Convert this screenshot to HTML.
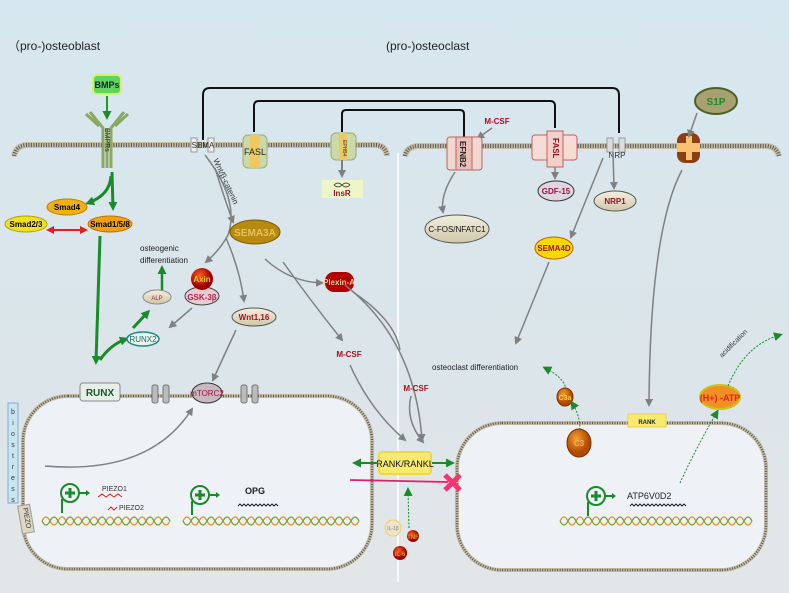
<!DOCTYPE html>
<html><head><meta charset="utf-8"><style>
html,body{margin:0;padding:0;width:789px;height:593px;overflow:hidden}
svg{display:block;font-family:"Liberation Sans",sans-serif}
</style></head><body>
<svg width="789" height="593" viewBox="0 0 789 593" xmlns="http://www.w3.org/2000/svg">
<defs>
<linearGradient id="bg" x1="0" y1="0" x2="0" y2="1"><stop offset="0" stop-color="#d7e7ef"/><stop offset="0.6" stop-color="#dbe5ea"/><stop offset="1" stop-color="#e3e6e8"/></linearGradient>
<marker id="ag" markerWidth="8" markerHeight="8" refX="6" refY="4" orient="auto" markerUnits="userSpaceOnUse"><path d="M0,0 L8,4 L0,8z" fill="#808080"/></marker>
<marker id="agr" markerWidth="9" markerHeight="9" refX="6" refY="4.5" orient="auto" markerUnits="userSpaceOnUse"><path d="M0,0 L9,4.5 L0,9z" fill="#1a8a2a"/></marker>
<marker id="ar" markerWidth="8" markerHeight="8" refX="6" refY="4" orient="auto-start-reverse" markerUnits="userSpaceOnUse"><path d="M0,0 L8,4 L0,8z" fill="#e02020"/></marker>
<radialGradient id="orng" cx="0.4" cy="0.35"><stop offset="0" stop-color="#f6a030"/><stop offset="1" stop-color="#b04a00"/></radialGradient>
<radialGradient id="redg" cx="0.4" cy="0.35"><stop offset="0" stop-color="#ff6020"/><stop offset="1" stop-color="#a00000"/></radialGradient>
<linearGradient id="beige" x1="0" y1="0" x2="0" y2="1"><stop offset="0" stop-color="#f3efe0"/><stop offset="1" stop-color="#cfc7a8"/></linearGradient>
</defs>
<rect width="789" height="593" fill="url(#bg)"/>
<text x="8" y="50" font-size="12" fill="#222">（pro-)osteoblast</text>
<text x="386" y="50" font-size="12" fill="#222">(pro-)osteoclast</text>

<!-- membranes -->
<g fill="none">
<path d="M14,156 Q16,146 26,145 L376,145 Q386,146 387,156" stroke="#c9c0a8" stroke-width="6"/>
<path d="M14,156 Q16,146 26,145 L376,145 Q386,146 387,156" stroke="#555" stroke-width="4" stroke-dasharray="1 1.5"/>
<path d="M405,156 Q407,147 417,146 L767,146 Q777,147 779,156" stroke="#c9c0a8" stroke-width="6"/>
<path d="M405,156 Q407,147 417,146 L767,146 Q777,147 779,156" stroke="#555" stroke-width="4" stroke-dasharray="1 1.5"/>
<!-- cells -->
<rect x="23" y="396" width="349" height="173" rx="45" fill="#eef1f6" stroke="#c9c0a8" stroke-width="4"/>
<rect x="23" y="396" width="349" height="173" rx="45" stroke="#555" stroke-width="2.5" stroke-dasharray="1 1.5"/>
<rect x="457" y="423" width="309" height="147" rx="45" fill="#eef1f6" stroke="#c9c0a8" stroke-width="4"/>
<rect x="457" y="423" width="309" height="147" rx="45" stroke="#555" stroke-width="2.5" stroke-dasharray="1 1.5"/>
</g>
<line x1="398" y1="153" x2="398" y2="582" stroke="#fff" stroke-width="1.5"/>

<!-- black connectors -->
<g fill="none" stroke="#111" stroke-width="2">
<path d="M203,140 L203,95 Q203,88 210,88 L612,88 Q619,88 619,95 L619,133"/>
<path d="M254,132 L254,106 Q254,101 259,101 L550,101 Q555,101 555,106 L555,128"/>
<path d="M342,132 L342,114 Q342,110 346,110 L460,110 Q464,110 464,114 L464,137"/>
</g>

<!-- BMP receptor -->
<rect x="93" y="75" width="28" height="19" rx="4" fill="#5fd45f" stroke="#d8f070" stroke-width="2"/>
<text x="107" y="88" font-size="9" font-weight="bold" text-anchor="middle" fill="#123">BMPs</text>
<g stroke="#8aa860" stroke-width="3" fill="none">
<path d="M103,168 L103,128 L90,112"/><path d="M107,168 L107,128"/><path d="M111,168 L111,128 L124,112"/><path d="M99,126 L86,114"/><path d="M115,126 L128,114"/>
</g>
<text x="105" y="128" font-size="7" fill="#333" transform="rotate(90 105 128)">BMPRs</text>
<line x1="107" y1="96" x2="107" y2="117" stroke="#1a9a2a" stroke-width="2" marker-end="url(#agr)"/>

<!-- SEMA left channel -->
<rect x="191" y="138" width="6" height="14" fill="#eee" stroke="#999"/><rect x="208" y="138" width="6" height="14" fill="#eee" stroke="#999"/>
<text x="203" y="148" font-size="8" text-anchor="middle" fill="#333">SEMA</text>
<!-- FASL left -->
<rect x="243" y="135" width="24" height="33" rx="5" fill="#cbd8a8" stroke="#9aaa70"/>
<rect x="250" y="135" width="10" height="33" fill="#f0c860"/>
<text x="255" y="155" font-size="9" text-anchor="middle" fill="#222">FASL</text>
<!-- EPHB4 -->
<rect x="331" y="133" width="25" height="27" rx="5" fill="#cbd8a8" stroke="#9aaa70"/>
<rect x="339" y="133" width="8" height="27" fill="#f0c860"/>
<text x="343" y="140" font-size="5" fill="#333" transform="rotate(90 343 140)">EPHB4</text>
<line x1="342" y1="160" x2="342" y2="176" stroke="#808080" stroke-width="2" marker-end="url(#ag)"/>
<rect x="322" y="180" width="41" height="18" fill="#eef6c8"/>
<path d="M334,185 q4,-4 8,0 q4,4 8,0 M334,185 q4,4 8,0 q4,-4 8,0" stroke="#333" fill="none" stroke-width="0.8"/>
<text x="342" y="196" font-size="8" font-weight="bold" text-anchor="middle" fill="#9a1030">InsR</text>

<!-- smads -->
<path d="M112,172 L113,208" stroke="#1a8a2a" stroke-width="3" fill="none" marker-end="url(#agr)"/>
<path d="M111,176 Q110,195 88,203" stroke="#1a8a2a" stroke-width="3" fill="none" marker-end="url(#agr)"/>
<ellipse cx="67" cy="207" rx="20" ry="8" fill="#f0b010" stroke="#c08000"/>
<text x="67" y="210" font-size="8" font-weight="bold" text-anchor="middle">Smad4</text>
<ellipse cx="26" cy="224" rx="21" ry="8" fill="#f0e020" stroke="#b0a000"/>
<text x="26" y="227" font-size="8" font-weight="bold" text-anchor="middle">Smad2/3</text>
<ellipse cx="110" cy="224" rx="22" ry="8" fill="#f0a010" stroke="#c07000"/>
<text x="110" y="227" font-size="8" font-weight="bold" text-anchor="middle">Smad1/5/8</text>
<line x1="48" y1="230" x2="86" y2="230" stroke="#e02020" stroke-width="2" marker-start="url(#ar)" marker-end="url(#ar)"/>
<path d="M100,236 L96,362" stroke="#1a8a2a" stroke-width="3" fill="none" marker-end="url(#agr)"/>
<path d="M100,360 Q110,345 126,339" stroke="#1a8a2a" stroke-width="3" fill="none" marker-end="url(#agr)"/>
<path d="M133,328 L148,312" stroke="#1a8a2a" stroke-width="3" fill="none" marker-end="url(#agr)"/>
<path d="M162,291 L162,268" stroke="#1a8a2a" stroke-width="2.5" fill="none" marker-end="url(#agr)"/>
<text x="140" y="251" font-size="8" fill="#222">osteogenic</text>
<text x="140" y="263" font-size="8" fill="#222">differentiation</text>
<ellipse cx="157" cy="297" rx="14" ry="7" fill="url(#beige)" stroke="#888"/>
<text x="157" y="300" font-size="6" text-anchor="middle" fill="#a02020">ALP</text>
<ellipse cx="143" cy="339" rx="16" ry="7" fill="#eaf4ec" stroke="#1a8a8a" stroke-width="1.5"/>
<text x="143" y="342" font-size="8" text-anchor="middle" fill="#1a6a6a">RUNX2</text>
<ellipse cx="202" cy="296" rx="17" ry="9" fill="#e8cad0" stroke="#444"/>
<text x="202" y="300" font-size="8" font-weight="bold" text-anchor="middle" fill="#b02050">GSK-3β</text>
<circle cx="202" cy="279" r="11" fill="url(#redg)"/>
<text x="202" y="282" font-size="8" font-weight="bold" text-anchor="middle" fill="#f0c030">Axin</text>
<line x1="192" y1="308" x2="170" y2="327" stroke="#808080" stroke-width="1.5" marker-end="url(#ag)"/>

<!-- wnt paths -->
<path d="M205,155 Q240,200 228,235 Q220,250 206,262" stroke="#808080" stroke-width="1.5" fill="none" marker-end="url(#ag)"/>
<path d="M226,238 Q240,270 244,301" stroke="#808080" stroke-width="1.5" fill="none" marker-end="url(#ag)"/>
<path d="M215,168 Q225,200 233,222" stroke="#808080" stroke-width="1.5" fill="none" marker-end="url(#ag)"/>
<text x="213" y="160" font-size="8" fill="#333" transform="rotate(65 213 160)">Wnt/β-catenin</text>
<ellipse cx="255" cy="232" rx="25" ry="12" fill="#b88a10" stroke="#7a5a00"/>
<text x="255" y="236" font-size="10" font-weight="bold" text-anchor="middle" fill="#e8c060">SEMA3A</text>
<ellipse cx="254" cy="317" rx="22" ry="9" fill="url(#beige)" stroke="#555"/>
<text x="254" y="320" font-size="8" font-weight="bold" text-anchor="middle" fill="#a01020">Wnt1,16</text>
<path d="M236,330 Q222,360 213,380" stroke="#808080" stroke-width="1.5" fill="none" marker-end="url(#ag)"/>
<path d="M265,259 Q290,282 322,283" stroke="#808080" stroke-width="1.5" fill="none" marker-end="url(#ag)"/>
<path d="M283,262 Q310,300 342,340" stroke="#808080" stroke-width="1.5" fill="none" marker-end="url(#ag)"/>
<rect x="325" y="272" width="29" height="20" rx="9" fill="#b00000"/>
<text x="339" y="285" font-size="8" font-weight="bold" text-anchor="middle" fill="#f0d0a0">Plexin-A</text>
<path d="M353,292 Q395,320 400,350" stroke="#808080" stroke-width="1.5" fill="none"/>
<text x="349" y="357" font-size="8" font-weight="bold" text-anchor="middle" fill="#b01020">M-CSF</text>
<path d="M350,365 Q370,410 405,440" stroke="#808080" stroke-width="1.5" fill="none" marker-end="url(#ag)"/>
<path d="M345,285 Q415,340 422,440" stroke="#808080" stroke-width="1.5" fill="none" marker-end="url(#ag)"/>
<text x="416" y="391" font-size="8" font-weight="bold" text-anchor="middle" fill="#b01020">M-CSF</text>
<path d="M411,396 Q405,420 423,442" stroke="#808080" stroke-width="1.5" fill="none" marker-end="url(#ag)"/>

<!-- left cell contents -->
<rect x="80" y="383" width="40" height="18" rx="3" fill="#e6efe8" stroke="#888"/>
<text x="100" y="396" font-size="10" font-weight="bold" text-anchor="middle" fill="#1a5a2a">RUNX</text>
<rect x="152" y="385" width="6" height="18" rx="2" fill="#bbb" stroke="#777"/><rect x="163" y="385" width="6" height="18" rx="2" fill="#bbb" stroke="#777"/>
<rect x="241" y="385" width="6" height="18" rx="2" fill="#bbb" stroke="#777"/><rect x="252" y="385" width="6" height="18" rx="2" fill="#bbb" stroke="#777"/>
<ellipse cx="207" cy="393" rx="15" ry="10" fill="#c9b8c0" stroke="#333"/>
<text x="207" y="396" font-size="8" text-anchor="middle" fill="#a01040">mTORC2</text>
<path d="M45,466 Q150,475 192,409" stroke="#808080" stroke-width="1.5" fill="none" marker-end="url(#ag)"/>
<rect x="8" y="403" width="10" height="100" fill="#c9e6f0" stroke="#8ac"/>
<text font-size="7" fill="#333" text-anchor="middle"><tspan x="13" y="414">b</tspan><tspan x="13" y="425">i</tspan><tspan x="13" y="436">o</tspan><tspan x="13" y="447">s</tspan><tspan x="13" y="458">t</tspan><tspan x="13" y="469">r</tspan><tspan x="13" y="480">e</tspan><tspan x="13" y="491">s</tspan><tspan x="13" y="502">s</tspan></text>
<rect x="20" y="505" width="12" height="28" fill="#ddd8c4" stroke="#999" transform="rotate(-10 26 519)"/>
<text x="23" y="508" font-size="7" fill="#333" transform="rotate(80 23 508)">PIEZO</text>
<g fill="none" stroke="#1a8a2a" stroke-width="2">
<circle cx="70" cy="493" r="9"/><path d="M70,488 v10 M65,493 h10" stroke-width="3"/><path d="M62,499 v14"/><path d="M79,493 h8"/>
<circle cx="200" cy="495" r="9"/><path d="M200,490 v10 M195,495 h10" stroke-width="3"/><path d="M192,501 v14"/><path d="M209,495 h8"/>
<circle cx="596" cy="496" r="9"/><path d="M596,491 v10 M591,496 h10" stroke-width="3"/><path d="M588,502 v14"/><path d="M605,496 h8"/>
</g>
<path d="M86,490 l4,3 -4,3z M216,492 l4,3 -4,3z M612,493 l4,3 -4,3z" fill="#1a8a2a"/>
<text x="102" y="491" font-size="7" fill="#333">PIEZO1</text>
<path d="M98,497 l4,-3 4,3 4,-3 4,3 4,-3 4,3" stroke="#e02020" fill="none"/>
<path d="M108,510 l3,-3 3,3 3,-3" stroke="#e02020" fill="none"/>
<text x="119" y="510" font-size="7" fill="#333">PIEZO2</text>
<text x="245" y="494" font-size="9" font-weight="bold" fill="#222">OPG</text>
<path d="M238,506 l2,-2 2,2 2,-2 2,2 2,-2 2,2 2,-2 2,2 2,-2 2,2 2,-2 2,2 2,-2 2,2 2,-2 2,2 2,-2 2,2 2,-2 2,2" stroke="#222" fill="none"/>
<text x="627" y="499" font-size="9" fill="#222">ATP6V0D2</text>
<path d="M630,506 l2,-2 2,2 2,-2 2,2 2,-2 2,2 2,-2 2,2 2,-2 2,2 2,-2 2,2 2,-2 2,2 2,-2 2,2 2,-2 2,2 2,-2 2,2 2,-2 2,2 2,-2 2,2 2,-2 2,2 2,-2 2,2" stroke="#222" fill="none"/>
<!-- DNA -->
<g fill="none" stroke-width="1.3">
<path d="M42,521 q4,-8 8,0 q4,8 8,0 q4,-8 8,0 q4,8 8,0 q4,-8 8,0 q4,8 8,0 q4,-8 8,0 q4,8 8,0 q4,-8 8,0 q4,8 8,0 q4,-8 8,0 q4,8 8,0 q4,-8 8,0 q4,8 8,0 q4,-8 8,0 q4,8 8,0" stroke="#e09020"/>
<path d="M42,521 q4,8 8,0 q4,-8 8,0 q4,8 8,0 q4,-8 8,0 q4,8 8,0 q4,-8 8,0 q4,8 8,0 q4,-8 8,0 q4,8 8,0 q4,-8 8,0 q4,8 8,0 q4,-8 8,0 q4,8 8,0 q4,-8 8,0 q4,8 8,0 q4,-8 8,0" stroke="#70a030"/>
<path d="M183,521 q4,-8 8,0 q4,8 8,0 q4,-8 8,0 q4,8 8,0 q4,-8 8,0 q4,8 8,0 q4,-8 8,0 q4,8 8,0 q4,-8 8,0 q4,8 8,0 q4,-8 8,0 q4,8 8,0 q4,-8 8,0 q4,8 8,0 q4,-8 8,0 q4,8 8,0 q4,-8 8,0 q4,8 8,0 q4,-8 8,0 q4,8 8,0 q4,-8 8,0 q4,8 8,0" stroke="#e09020"/>
<path d="M183,521 q4,8 8,0 q4,-8 8,0 q4,8 8,0 q4,-8 8,0 q4,8 8,0 q4,-8 8,0 q4,8 8,0 q4,-8 8,0 q4,8 8,0 q4,-8 8,0 q4,8 8,0 q4,-8 8,0 q4,8 8,0 q4,-8 8,0 q4,8 8,0 q4,-8 8,0 q4,8 8,0 q4,-8 8,0 q4,8 8,0 q4,-8 8,0 q4,8 8,0 q4,-8 8,0" stroke="#70a030"/>
<path d="M560,521 q4,-8 8,0 q4,8 8,0 q4,-8 8,0 q4,8 8,0 q4,-8 8,0 q4,8 8,0 q4,-8 8,0 q4,8 8,0 q4,-8 8,0 q4,8 8,0 q4,-8 8,0 q4,8 8,0 q4,-8 8,0 q4,8 8,0 q4,-8 8,0 q4,8 8,0 q4,-8 8,0 q4,8 8,0 q4,-8 8,0 q4,8 8,0 q4,-8 8,0 q4,8 8,0 q4,-8 8,0 q4,8 8,0" stroke="#e09020"/>
<path d="M560,521 q4,8 8,0 q4,-8 8,0 q4,8 8,0 q4,-8 8,0 q4,8 8,0 q4,-8 8,0 q4,8 8,0 q4,-8 8,0 q4,8 8,0 q4,-8 8,0 q4,8 8,0 q4,-8 8,0 q4,8 8,0 q4,-8 8,0 q4,8 8,0 q4,-8 8,0 q4,8 8,0 q4,-8 8,0 q4,8 8,0 q4,-8 8,0 q4,8 8,0 q4,-8 8,0 q4,8 8,0 q4,-8 8,0" stroke="#70a030"/>
</g>

<!-- RANK/RANKL -->
<rect x="379" y="452" width="52" height="22" rx="3" fill="#f6ea70" stroke="#f0d840" stroke-width="2"/>
<text x="405" y="467" font-size="9" text-anchor="middle" fill="#111">RANK/RANKL</text>
<line x1="378" y1="463" x2="355" y2="463" stroke="#1a8a2a" stroke-width="2" marker-end="url(#agr)"/>
<line x1="432" y1="463" x2="452" y2="463" stroke="#1a8a2a" stroke-width="2" marker-end="url(#agr)"/>
<line x1="350" y1="480" x2="448" y2="482" stroke="#e0206a" stroke-width="1.8"/>
<path d="M445,475 l15,15 M460,475 l-15,15" stroke="#ff3070" stroke-width="5"/>
<line x1="409" y1="528" x2="408" y2="490" stroke="#1a8a2a" stroke-width="1" stroke-dasharray="2 1.5" marker-end="url(#agr)"/>
<circle cx="393" cy="528" r="8" fill="#eee4cc" stroke="#f0d060"/>
<text x="393" y="530" font-size="5" text-anchor="middle" fill="#777">IL-1β</text>
<circle cx="413" cy="536" r="6" fill="url(#redg)"/>
<text x="413" y="539" font-size="6" font-weight="bold" text-anchor="middle" fill="#d0a020">TNF</text>
<circle cx="400" cy="553" r="7" fill="url(#redg)"/>
<text x="400" y="556" font-size="6" font-weight="bold" text-anchor="middle" fill="#d0a020">IL-6</text>

<!-- right side -->
<text x="497" y="124" font-size="8" font-weight="bold" text-anchor="middle" fill="#b01020">M-CSF</text>
<line x1="492" y1="128" x2="478" y2="138" stroke="#808080" stroke-width="1.5" marker-end="url(#ag)"/>
<rect x="447" y="137" width="35" height="33" rx="3" fill="#f0d8d0" stroke="#c06060"/>
<rect x="456" y="137" width="16" height="33" fill="#e8c0b8" stroke="#c06060"/>
<text x="460" y="141" font-size="8" font-weight="bold" fill="#222" transform="rotate(90 460 141)">EFNB2</text>
<path d="M455,172 Q440,195 443,212" stroke="#808080" stroke-width="1.5" fill="none" marker-end="url(#ag)"/>
<ellipse cx="457" cy="229" rx="32" ry="14" fill="url(#beige)" stroke="#555"/>
<text x="457" y="232" font-size="8" text-anchor="middle" fill="#111">C-FOS/NFATC1</text>
<rect x="532" y="135" width="45" height="25" rx="3" fill="#f6dcd4" stroke="#c06060"/>
<rect x="547" y="131" width="16" height="36" fill="#f0d0c8" stroke="#c06060"/>
<text x="553" y="138" font-size="8" font-weight="bold" fill="#a01020" transform="rotate(90 553 138)">FASL</text>
<line x1="555" y1="167" x2="555" y2="178" stroke="#808080" stroke-width="1.5" marker-end="url(#ag)"/>
<ellipse cx="556" cy="191" rx="18" ry="10" fill="#ddd6e0" stroke="#333"/>
<text x="556" y="194" font-size="8" font-weight="bold" text-anchor="middle" fill="#a01040">GDF-15</text>
<rect x="607" y="138" width="6" height="14" fill="#ddd" stroke="#999"/><rect x="619" y="138" width="6" height="14" fill="#ddd" stroke="#999"/>
<text x="617" y="158" font-size="8" text-anchor="middle" fill="#333">NRP</text>
<line x1="613" y1="152" x2="614" y2="188" stroke="#808080" stroke-width="1.5" marker-end="url(#ag)"/>
<ellipse cx="615" cy="201" rx="21" ry="10" fill="url(#beige)" stroke="#555"/>
<text x="615" y="204" font-size="8" font-weight="bold" text-anchor="middle" fill="#a01020">NRP1</text>
<line x1="603" y1="158" x2="571" y2="237" stroke="#808080" stroke-width="1.5" marker-end="url(#ag)"/>
<ellipse cx="554" cy="248" rx="19" ry="11" fill="#f8d800" stroke="#c06000"/>
<text x="554" y="251" font-size="8" font-weight="bold" text-anchor="middle" fill="#a01020">SEMA4D</text>
<line x1="549" y1="262" x2="516" y2="343" stroke="#808080" stroke-width="1.5" marker-end="url(#ag)"/>
<rect x="677" y="133" width="23" height="30" rx="8" fill="#8a4010"/>
<rect x="677" y="143" width="23" height="9" fill="#f8c070"/><rect x="686" y="136" width="6" height="24" fill="#f8c070"/>
<ellipse cx="716" cy="101" rx="21" ry="13" fill="#a8a070" stroke="#4a6020" stroke-width="2"/>
<text x="716" y="105" font-size="10" font-weight="bold" text-anchor="middle" fill="#1a8a2a">S1P</text>
<line x1="697" y1="113" x2="689" y2="136" stroke="#808080" stroke-width="1.5" marker-end="url(#ag)"/>
<path d="M682,170 Q650,230 649,405" stroke="#808080" stroke-width="1.5" fill="none" marker-end="url(#ag)"/>
<text x="432" y="370" font-size="8" fill="#222">osteoclast differentiation</text>
<path d="M566,390 Q565,378 545,368" stroke="#1a8a2a" stroke-width="1" stroke-dasharray="2 1.5" fill="none" marker-end="url(#agr)"/>
<ellipse cx="565" cy="397" rx="8" ry="9" fill="url(#orng)" stroke="#7a3000"/>
<text x="565" y="400" font-size="7" font-weight="bold" text-anchor="middle" fill="#f0d040">C3a</text>
<path d="M580,430 Q580,415 572,403" stroke="#1a8a2a" stroke-width="1" stroke-dasharray="2 1.5" fill="none" marker-end="url(#agr)"/>
<ellipse cx="579" cy="443" rx="12" ry="14" fill="url(#orng)" stroke="#7a3000"/>
<text x="579" y="446" font-size="8" font-weight="bold" text-anchor="middle" fill="#f0b060">C3</text>
<rect x="628" y="414" width="38" height="13" fill="#f8ea70" stroke="#f0d040"/>
<text x="647" y="424" font-size="6" font-weight="bold" text-anchor="middle" fill="#222">RANK</text>
<path d="M680,483 Q695,450 717,412" stroke="#1a8a2a" stroke-width="1" stroke-dasharray="2 1.5" fill="none" marker-end="url(#agr)"/>
<ellipse cx="720" cy="397" rx="20" ry="12" fill="#f09020" stroke="#d0c020" stroke-width="2"/>
<text x="720" y="401" font-size="9" font-weight="bold" text-anchor="middle" fill="#e02020">(H+) -ATP</text>
<path d="M728,386 Q745,345 780,335" stroke="#1a8a2a" stroke-width="1" stroke-dasharray="2 1.5" fill="none" marker-end="url(#agr)"/>
<text x="722" y="358" font-size="7" fill="#333" transform="rotate(-45 722 358)">acidification</text>
</svg>
</body></html>
